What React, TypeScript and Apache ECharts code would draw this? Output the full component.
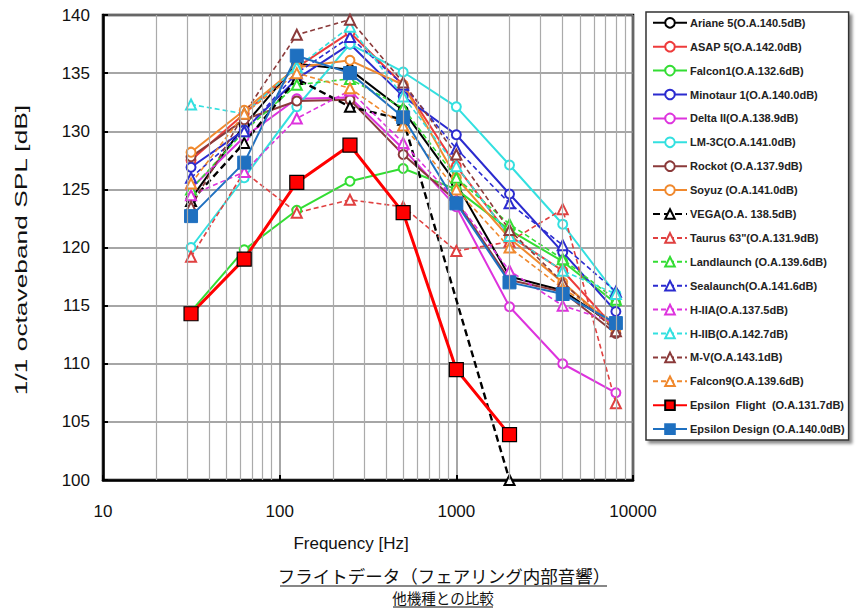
import React, { useEffect, useRef } from "react";
import * as echarts from "echarts";

const freqs = [31.5, 63, 125, 250, 500, 1000, 2000, 4000, 8000];
const minorGridFreqs = [20, 30, 40, 50, 60, 70, 80, 90, 200, 300, 400, 500, 600, 700, 800, 900, 2000, 3000, 4000, 5000, 6000, 7000, 8000, 9000];

const ariane5 = [124.2, 130.5, 135.8, 135.3, 131.8, 125.5, 117.5, 116.3, 113.2];
const asap5 = [127.5, 131.5, 135.5, 138.5, 134, 127, 121, 118, 113];
const falcon1 = [114.5, 119.8, 123.2, 125.7, 126.8, 125, 121.5, 118.8, 115.2];
const minotaur1 = [126.9, 130.1, 134.5, 137.5, 133, 129.7, 124.6, 119.6, 114.5];
const deltaII = [125.1, 129.5, 132.8, 132.9, 128.5, 123.5, 114.9, 110, 107.5];
const lm3c = [120, 126, 132.1, 137.5, 135.1, 132.1, 127.1, 122, 116];
const rockot = [127.8, 131, 132.6, 132.7, 128, 124, 117.2, 116.2, 112.6];
const soyuz = [128.2, 131.8, 135.5, 136.1, 134, 126, 120.8, 117, 113];
const vega = [124, 129, 134.5, 132.1, 131, null, 100, null, null];
const taurus = [119.2, 126.5, 123, 124.1, 123.5, 119.7, 120.5, 123.3, 106.6];
const landlaunch = [125, 130, 134, 134.5, 132, 126, 122, 119, 115.5];
const sealaunch = [126, 130, 135, 138.1, 134, 128.5, 123.8, 120.2, 116.2];
const h2a = [124.5, 126.5, 131.1, 133.5, 129, 124, 118, 115, 113.5];
const h2b = [132.3, 131.5, 135.5, 139, 133, 127, 121, 118, 116];
const mv = [123.5, 131.5, 138.3, 139.6, 134.2, 128, 121.5, 117, 112.8];
const falcon9 = [125.5, 131.5, 135, 133.7, 130.5, 125, 120, 116.5, 113.5];
const epsFlight = [114.3, 119, 125.6, 128.8, 123, 109.5, 103.9, null, null];
const epsDesign = [122.7, 127.3, 136.5, 135, 131.2, 123.8, 117, 116, 113.5];

const seriesDefs = [
  { name: "Ariane 5(O.A.140.5dB)", data: ariane5, color: "#000000", dash: false, sym: "emptyCircle" },
  { name: "ASAP 5(O.A.142.0dB)", data: asap5, color: "#ee3b3b", dash: false, sym: "emptyCircle" },
  { name: "Falcon1(O.A.132.6dB)", data: falcon1, color: "#33dd33", dash: false, sym: "emptyCircle" },
  { name: "Minotaur 1(O.A.140.0dB)", data: minotaur1, color: "#2b2bcf", dash: false, sym: "emptyCircle" },
  { name: "Delta II(O.A.138.9dB)", data: deltaII, color: "#dd33dd", dash: false, sym: "emptyCircle" },
  { name: "LM-3C(O.A.141.0dB)", data: lm3c, color: "#33e0e0", dash: false, sym: "emptyCircle" },
  { name: "Rockot (O.A.137.9dB)", data: rockot, color: "#8b3a3a", dash: false, sym: "emptyCircle" },
  { name: "Soyuz (O.A.141.0dB)", data: soyuz, color: "#f0892e", dash: false, sym: "emptyCircle" },
  { name: "VEGA(O.A. 138.5dB)", data: vega, color: "#000000", dash: true, sym: "emptyTriangle" },
  { name: "Taurus 63\"(O.A.131.9dB)", data: taurus, color: "#e04040", dash: true, sym: "emptyTriangle" },
  { name: "Landlaunch (O.A.139.6dB)", data: landlaunch, color: "#33dd33", dash: true, sym: "emptyTriangle" },
  { name: "Sealaunch(O.A.141.6dB)", data: sealaunch, color: "#2b2bcf", dash: true, sym: "emptyTriangle" },
  { name: "H-IIA(O.A.137.5dB)", data: h2a, color: "#dd33dd", dash: true, sym: "emptyTriangle" },
  { name: "H-IIB(O.A.142.7dB)", data: h2b, color: "#33e0e0", dash: true, sym: "emptyTriangle" },
  { name: "M-V(O.A.143.1dB)", data: mv, color: "#8b3a3a", dash: true, sym: "emptyTriangle" },
  { name: "Falcon9(O.A.139.6dB)", data: falcon9, color: "#f0892e", dash: true, sym: "emptyTriangle" },
];

const flightName = "Epsilon  Flight  (O.A.131.7dB)";
const designName = "Epsilon Design (O.A.140.0dB)";

export default function App() {
  const ref = useRef<HTMLDivElement>(null);
  useEffect(() => {
    if (!ref.current) return;
    const chart = echarts.init(ref.current, undefined, { renderer: "svg" });
    const toPairs = (arr: (number | null)[]) =>
      arr.map((v, i) => [freqs[i], v]).filter((p) => p[1] !== null);

    const series: any[] = seriesDefs.map((d) => {
      const isVega = d.data === vega;
      return {
        name: d.name,
        type: "line",
        data: toPairs(d.data),
        symbol: d.sym,
        symbolSize: d.sym === "emptyCircle" ? 9 : 10,
        itemStyle: { color: d.color, borderWidth: 1.5 },
        lineStyle: {
          color: d.color,
          width: isVega ? 2.4 : d.dash ? 1.6 : 2,
          type: isVega ? [7, 4] : d.dash ? [5, 3] : "solid",
        },
        z: 3,
      };
    });
    series.push({
      name: flightName,
      type: "line",
      data: toPairs(epsFlight),
      symbol: "rect",
      symbolSize: 14,
      itemStyle: { color: "#ff0000", borderColor: "#000", borderWidth: 1.2 },
      lineStyle: { color: "#ff0000", width: 3 },
      z: 5,
    });
    series.push({
      name: designName,
      type: "line",
      data: toPairs(epsDesign),
      symbol: "rect",
      symbolSize: 13,
      itemStyle: { color: "#1f70c0", borderColor: "#1f70c0", borderWidth: 1 },
      lineStyle: { color: "#1f70c0", width: 2 },
      z: 4,
    });
    // minor vertical grid lines
    series.push({
      type: "line",
      data: [],
      silent: true,
      z: 1,
      markLine: {
        silent: true,
        symbol: "none",
        label: { show: false },
        lineStyle: { color: "#aaaaaa", width: 1.2, type: "solid" },
        data: minorGridFreqs.map((f) => ({ xAxis: f })),
        animation: false,
      },
    });

    chart.setOption({
      animation: false,
      backgroundColor: "#ffffff",
      textStyle: { fontFamily: "Liberation Sans, Arial, sans-serif" },
      grid: {
        left: 103,
        top: 15,
        right: 226,
        bottom: 129,
        show: true,
        borderColor: "#000",
        borderWidth: 2.5,
        backgroundColor: "transparent",
      },
      legend: {
        orient: "vertical",
        left: 646,
        top: 12,
        width: 210,
        height: 440,
        padding: [5, 4, 5, 6],
        itemWidth: 34,
        itemHeight: 12,
        itemGap: 12.3,
        borderColor: "#333",
        borderWidth: 1.5,
        backgroundColor: "#fff",
        shadowColor: "rgba(0,0,0,0.45)",
        shadowBlur: 3,
        shadowOffsetX: 3,
        shadowOffsetY: 3,
        textStyle: { fontSize: 11, color: "#222", fontWeight: "bold", padding: [0, 0, 0, -2] },
        data: [...seriesDefs.map((d) => d.name), flightName, designName],
      },
      xAxis: {
        type: "log",
        logBase: 10,
        min: 10,
        max: 10000,
        axisLine: { show: true, lineStyle: { color: "#000", width: 2.5 } },
        axisTick: { show: true, inside: true, length: 5, lineStyle: { color: "#000", width: 2 } },
        axisLabel: { fontSize: 17, color: "#111", margin: 23, formatter: (v: number) => String(Math.round(v)) },
        splitLine: { show: true, lineStyle: { color: "#888", width: 1.5 } },
        minorTick: { show: false },
        minorSplitLine: { show: false },
      },
      yAxis: {
        type: "value",
        min: 100,
        max: 140,
        interval: 5,
        axisLine: { show: true, lineStyle: { color: "#000", width: 2.5 } },
        axisTick: { show: true, inside: true, length: 5, lineStyle: { color: "#000", width: 2 } },
        axisLabel: { fontSize: 17, color: "#111", margin: 13 },
        splitLine: { show: true, lineStyle: { color: "#888", width: 1.5 } },
      },
      graphic: [
        {
          type: "text",
          x: 21,
          y: 250,
          rotation: Math.PI / 2,
          scaleX: 1.55,
          style: {
            text: "1/1 octaveband SPL [dB]",
            fontSize: 17,
            fill: "#111",
            align: "center",
            verticalAlign: "middle",
            fontFamily: "Liberation Sans, Arial, sans-serif",
          },
        },
        {
          type: "text",
          x: 351,
          y: 543,
          style: {
            text: "Frequency [Hz]",
            fontSize: 17,
            fill: "#111",
            align: "center",
            verticalAlign: "middle",
            fontFamily: "Liberation Sans, Arial, sans-serif",
          },
        },
        {
          type: "text",
          x: 444,
          y: 575,
          style: {
            text: "フライトデータ（フェアリング内部音響）",
            fontSize: 17.5,
            fill: "#111",
            align: "center",
            verticalAlign: "middle",
            fontFamily: "Noto Sans CJK JP, sans-serif",
          },
        },
        { type: "line", shape: { x1: 280, y1: 586, x2: 607, y2: 586 }, style: { stroke: "#111", lineWidth: 1.2 } },
        {
          type: "text",
          x: 443,
          y: 597,
          style: {
            text: "他機種との比較",
            fontSize: 14.5,
            fill: "#111",
            align: "center",
            verticalAlign: "middle",
            fontFamily: "Noto Sans CJK JP, sans-serif",
          },
        },
        { type: "line", shape: { x1: 393, y1: 607, x2: 493, y2: 607 }, style: { stroke: "#111", lineWidth: 1.2 } },
      ],
      series,
    });
    return () => chart.dispose();
  }, []);
  return (
    <div
      ref={ref}
      style={{ position: "fixed", left: 0, top: 0, width: 859, height: 609, background: "#fff" }}
    />
  );
}
